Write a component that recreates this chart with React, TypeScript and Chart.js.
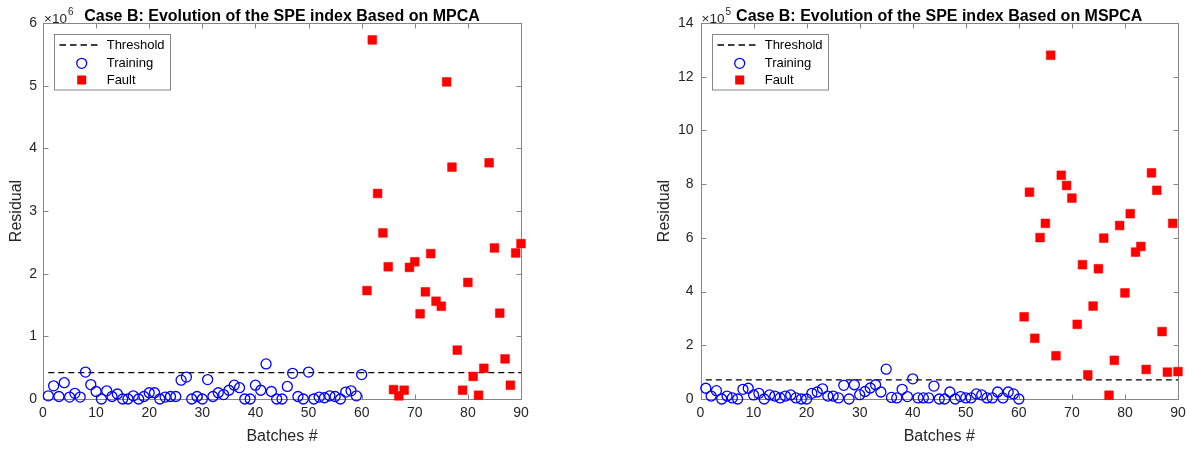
import React, { useEffect, useRef } from "react";
import { Chart, registerables } from "chart.js";

Chart.register(...registerables);

// ---------- Data ----------
const trainBatches = [
  1, 2, 3, 4, 5, 6, 7, 8, 9, 10, 11, 12, 13, 14, 15, 16, 17, 18, 19, 20,
  21, 22, 23, 24, 25, 26, 27, 28, 29, 30, 31, 32, 33, 34, 35, 36, 37, 38, 39, 40,
  41, 42, 43, 44, 45, 46, 47, 48, 49, 50, 51, 52, 53, 54, 55, 56, 57, 58, 59, 60,
];
const faultBatches = [
  61, 62, 63, 64, 65, 66, 67, 68, 69, 70, 71, 72, 73, 74, 75,
  76, 77, 78, 79, 80, 81, 82, 83, 84, 85, 86, 87, 88, 89, 90,
];

// MPCA (units of 1e6)
const mpcaTraining = [
  0.05, 0.21, 0.04, 0.26, 0.03, 0.09, 0.03, 0.43, 0.23, 0.12,
  0.0, 0.13, 0.04, 0.08, 0.0, 0.0, 0.05, 0.0, 0.04, 0.1,
  0.1, 0.0, 0.03, 0.04, 0.04, 0.3, 0.35, 0.0, 0.04, 0.0,
  0.31, 0.04, 0.1, 0.07, 0.14, 0.22, 0.18, 0.0, 0.0, 0.22,
  0.14, 0.56, 0.12, 0.0, 0.0, 0.2, 0.41, 0.04, 0.0, 0.43,
  0.0, 0.03, 0.02, 0.05, 0.04, 0.0, 0.11, 0.13, 0.05, 0.39,
];
const mpcaFault = [
  1.73, 5.73, 3.28, 2.65, 2.11, 0.15, 0.05, 0.14, 2.1, 2.19,
  1.36, 1.71, 2.32, 1.56, 1.48, 5.06, 3.7, 0.78, 0.14, 1.86,
  0.36, 0.06, 0.49, 3.77, 2.41, 1.37, 0.64, 0.22, 2.33, 2.48,
];
const mpcaThreshold = 0.42;

// MSPCA (units of 1e5)
const mspcaTraining = [
  0.4, 0.11, 0.31, 0.0, 0.11, 0.04, 0.0, 0.36, 0.4, 0.15,
  0.21, 0.0, 0.15, 0.11, 0.04, 0.11, 0.15, 0.04, 0.0, 0.0,
  0.21, 0.26, 0.38, 0.11, 0.11, 0.04, 0.51, 0.0, 0.53, 0.16,
  0.28, 0.41, 0.53, 0.26, 1.11, 0.06, 0.04, 0.36, 0.09, 0.75,
  0.04, 0.04, 0.04, 0.48, 0.0, 0.0, 0.26, 0.0, 0.09, 0.04,
  0.04, 0.19, 0.15, 0.04, 0.04, 0.26, 0.04, 0.26, 0.19, 0.0,
];
const mspcaFault = [
  3.06, 7.7, 2.26, 6.01, 6.54, 12.8, 1.61, 8.33, 7.95, 7.48,
  2.78, 5.0, 0.9, 3.46, 4.85, 5.99, 0.14, 1.44, 6.46, 3.95,
  6.9, 5.47, 5.68, 1.1, 8.42, 7.77, 2.51, 1.0, 6.54, 1.02,
];
const mspcaThreshold = 0.71;

const thresholdSpan = [1, 90];
const xRange = [0, 90];
const mpcaYRange = [0, 6];
const mspcaYRange = [0, 14];

const FONT = "'Liberation Sans', Arial, Helvetica, sans-serif";

type Panel = {
  title: string;
  exponent: string;
  training: number[];
  fault: number[];
  threshold: number;
  yRange: number[];
  yStep: number;
  plotLeft: number; // within canvas
  plotRight: number; // within canvas
  yLabelPad: number;
  yTitleX: number; // baseline x within canvas (rotated)
};

const CANVAS_W = 596;
const CANVAS_H = 449;
const PLOT_TOP = 23;
const PLOT_BOTTOM = 399;

const framePlugin = (p: Panel) => ({
  id: "matlabFrame",
  beforeDatasetsDraw(chart: any) {
    const { ctx, chartArea } = chart;
    const xs = chart.scales.x;
    const ys = chart.scales.y;
    const l = Math.round(chartArea.left) + 0.5;
    const r = Math.round(chartArea.right) + 0.5;
    const t = Math.round(chartArea.top) + 0.5;
    const b = Math.round(chartArea.bottom) + 0.5;
    ctx.save();
    ctx.strokeStyle = "#868686";
    ctx.lineWidth = 1;
    ctx.strokeRect(l, t, r - l, b - t);
    const tl = 5;
    ctx.beginPath();
    xs.ticks.forEach((tk: any) => {
      const px = Math.round(xs.getPixelForValue(tk.value)) + 0.5;
      ctx.moveTo(px, b);
      ctx.lineTo(px, b - tl);
      ctx.moveTo(px, t);
      ctx.lineTo(px, t + tl);
    });
    ys.ticks.forEach((tk: any) => {
      const py = Math.round(ys.getPixelForValue(tk.value)) + 0.5;
      ctx.moveTo(l, py);
      ctx.lineTo(l + tl, py);
      ctx.moveTo(r, py);
      ctx.lineTo(r - tl, py);
    });
    ctx.stroke();
    ctx.restore();
  },
  afterDraw(chart: any) {
    const { ctx, chartArea } = chart;
    const cx = (chartArea.left + chartArea.right) / 2;
    const cy = (chartArea.top + chartArea.bottom) / 2;
    ctx.save();
    // title
    ctx.fillStyle = "#000";
    ctx.font = `bold 16px ${FONT}`;
    ctx.textAlign = "center";
    ctx.textBaseline = "alphabetic";
    ctx.fillText(p.title, cx, 21);
    // exponent
    ctx.fillStyle = "#262626";
    ctx.textAlign = "left";
    ctx.font = `13.5px ${FONT}`;
    const base = "\u00d710";
    ctx.fillText(base, chartArea.left + 1, 23);
    const w = ctx.measureText(base).width;
    ctx.font = `10px ${FONT}`;
    ctx.fillText(p.exponent, chartArea.left + 1 + w + 1, 15);
    // x title
    ctx.font = `16px ${FONT}`;
    ctx.textAlign = "center";
    ctx.fillText("Batches #", cx, 441);
    // y title
    ctx.save();
    ctx.translate(p.yTitleX, cy);
    ctx.rotate(-Math.PI / 2);
    ctx.fillText("Residual", 0, 0);
    ctx.restore();

    // legend
    const lx = Math.round(chartArea.left) + 11.5;
    const ly = 34.5;
    ctx.fillStyle = "#fff";
    ctx.fillRect(lx, ly, 116, 55.5);
    ctx.strokeStyle = "#868686";
    ctx.lineWidth = 1;
    ctx.strokeRect(lx, ly, 116, 55.5);
    const rows = [45, 63.3, 80];
    const L = Math.round(chartArea.left);
    // threshold line
    ctx.strokeStyle = "#000";
    ctx.lineWidth = 1.3;
    ctx.setLineDash([6.5, 4]);
    ctx.beginPath();
    ctx.moveTo(L + 16.5, rows[0]);
    ctx.lineTo(L + 57, rows[0]);
    ctx.stroke();
    ctx.setLineDash([]);
    // training circle
    ctx.strokeStyle = "#0000ff";
    ctx.lineWidth = 1.3;
    ctx.beginPath();
    ctx.arc(L + 38.7, rows[1], 5, 0, Math.PI * 2);
    ctx.stroke();
    // fault square
    ctx.fillStyle = "#ff0000";
    ctx.fillRect(L + 38.7 - 4.5, rows[2] - 4.5, 9, 9);
    // texts
    ctx.fillStyle = "#000";
    ctx.font = `13px ${FONT}`;
    ctx.textAlign = "left";
    ctx.textBaseline = "middle";
    ctx.fillText("Threshold", L + 63.7, rows[0] + 0.5);
    ctx.fillText("Training", L + 63.7, rows[1] + 0.5);
    ctx.fillText("Fault", L + 63.7, rows[2] + 0.5);
    ctx.restore();
  },
});

function buildConfig(p: Panel): any {
  return {
    type: "scatter",
    data: {
      datasets: [
        {
          label: "Threshold",
          type: "line",
          data: thresholdSpan.map((x) => ({ x, y: p.threshold })),
          borderColor: "#000000",
          borderWidth: 1.3,
          borderDash: [6, 4],
          pointRadius: 0,
          fill: false,
          order: 3,
          clip: false,
        },
        {
          label: "Training",
          data: p.training.map((y, i) => ({ x: trainBatches[i], y })),
          pointStyle: "circle",
          pointRadius: 5,
          borderColor: "#0000ff",
          backgroundColor: "rgba(0,0,0,0)",
          borderWidth: 1.3,
          order: 2,
          clip: false,
        },
        {
          label: "Fault",
          data: p.fault.map((y, i) => ({ x: faultBatches[i], y })),
          pointStyle: "rect",
          pointRadius: 6.2,
          backgroundColor: "#ff0000",
          borderColor: "#ff0000",
          borderWidth: 0.5,
          order: 1,
          clip: false,
        },
      ],
    },
    options: {
      animation: false,
      responsive: false,
      maintainAspectRatio: false,
      events: [],
      layout: {
        padding: { top: PLOT_TOP, right: CANVAS_W - p.plotRight, left: 0, bottom: 0 },
      },
      plugins: { legend: { display: false }, tooltip: { enabled: false }, title: { display: false } },
      scales: {
        x: {
          type: "linear",
          min: xRange[0],
          max: xRange[1],
          grid: { display: false, drawTicks: false },
          border: { display: false },
          ticks: {
            stepSize: 10,
            autoSkip: false,
            maxRotation: 0,
            color: "#262626",
            padding: 6,
            font: { family: FONT, size: 14 },
          },
          afterFit: (s: any) => {
            s.height = CANVAS_H - PLOT_BOTTOM;
          },
        },
        y: {
          type: "linear",
          min: p.yRange[0],
          max: p.yRange[1],
          grid: { display: false, drawTicks: false },
          border: { display: false },
          ticks: {
            stepSize: p.yStep,
            autoSkip: false,
            color: "#262626",
            padding: p.yLabelPad,
            font: { family: FONT, size: 14 },
          },
          afterFit: (s: any) => {
            s.width = p.plotLeft;
          },
        },
      },
    },
    plugins: [framePlugin(p)],
  };
}

function ChartPanel({ panel, left }: { panel: Panel; left: number }) {
  const ref = useRef<HTMLCanvasElement | null>(null);
  useEffect(() => {
    if (!ref.current) return;
    const chart = new Chart(ref.current, buildConfig(panel));
    return () => chart.destroy();
  }, [panel]);
  return (
    <canvas
      ref={ref}
      width={CANVAS_W}
      height={CANVAS_H}
      style={{ position: "absolute", left, top: 0, width: CANVAS_W, height: CANVAS_H }}
    />
  );
}

const leftPanel: Panel = {
  title: "Case B: Evolution of the SPE index Based on MPCA",
  exponent: "6",
  training: mpcaTraining,
  fault: mpcaFault,
  threshold: mpcaThreshold,
  yRange: mpcaYRange,
  yStep: 1,
  plotLeft: 43,
  plotRight: 521,
  yLabelPad: 6,
  yTitleX: 20.5,
};

const rightPanel: Panel = {
  title: "Case B: Evolution of the SPE index Based on MSPCA",
  exponent: "5",
  training: mspcaTraining,
  fault: mspcaFault,
  threshold: mspcaThreshold,
  yRange: mspcaYRange,
  yStep: 2,
  plotLeft: 104.5,
  plotRight: 582,
  yLabelPad: 7,
  yTitleX: 668.5 - 596,
};

export default function App() {
  useEffect(() => {
    document.body.style.margin = "0";
    document.body.style.background = "#ffffff";
  }, []);
  return (
    <div style={{ position: "relative", width: 1192, height: 449, background: "#fff", overflow: "hidden" }}>
      <ChartPanel panel={leftPanel} left={0} />
      <ChartPanel panel={rightPanel} left={596} />
    </div>
  );
}
